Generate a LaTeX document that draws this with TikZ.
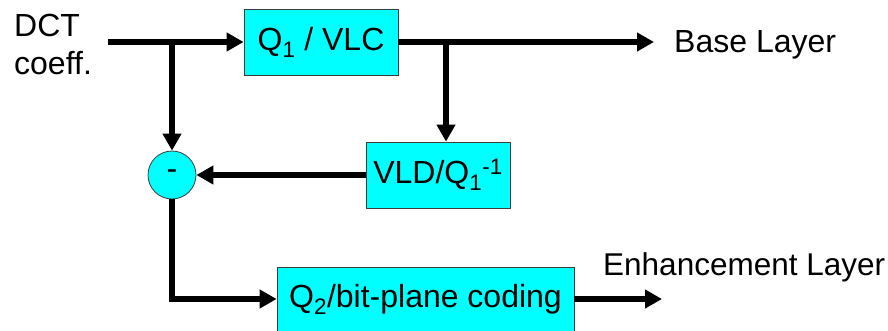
\documentclass[tikz,border=0pt]{standalone}
\usepackage{fontspec}
\setmainfont{Liberation Sans}
\usetikzlibrary{arrows.meta}
\definecolor{boxcyan}{RGB}{0,255,255}
\definecolor{boxline}{RGB}{60,60,60}
\begin{document}
\begin{tikzpicture}[x=1pt,y=-1pt,
 blk/.style={draw=boxline,line width=0.8pt,fill=boxcyan,inner sep=0pt,font=\fontsize{32}{38}\selectfont},
 conn/.style={line width=6pt,-{Triangle[length=17pt,width=18pt]}},
 lbl/.style={font=\fontsize{32}{38}\selectfont,inner sep=0pt}]
\useasboundingbox (0,0) rectangle (888,331);
\node[blk,minimum width=154pt,minimum height=66pt] (q1) at (321,42) {Q\textsubscript{1} / VLC};
\node[blk,minimum width=144pt,minimum height=66pt] (vld) at (438,175) {VLD/Q\textsubscript{1}\textsuperscript{-1}};
\node[blk,minimum width=297pt,minimum height=64pt] (q2) at (425.5,299) {Q\textsubscript{2}/bit-plane coding};
\node[blk,circle,minimum size=48pt] (sub) at (172,175) {-};
\coordinate (in) at (108,42);
\coordinate (b1) at (172,42);
\coordinate (b2) at (446,42);
\coordinate (base) at (654,42);
\coordinate (enh) at (662,299);
\node[lbl,anchor=base west] (dct) at (14,37) {DCT};
\node[lbl,anchor=base west] (coeff) at (14,75) {coeff.};
\node[lbl,anchor=base west] (bl) at (674,53) {Base Layer};
\node[lbl,anchor=base west,font=\fontsize{31.5}{38}\selectfont] (el) at (603,275) {Enhancement Layer};
\draw[conn] (in) -- (q1.west);
\draw[conn] (b1) -- (sub.north);
\draw[conn] (q1.east) -- (base);
\draw[conn] (b2) -- (b2 |- vld.north);
\draw[conn] (vld.west) -- (sub.east);
\draw[conn] (sub.south) |- (q2.west);
\draw[conn] (q2.east) -- (enh);
\end{tikzpicture}
\end{document}
